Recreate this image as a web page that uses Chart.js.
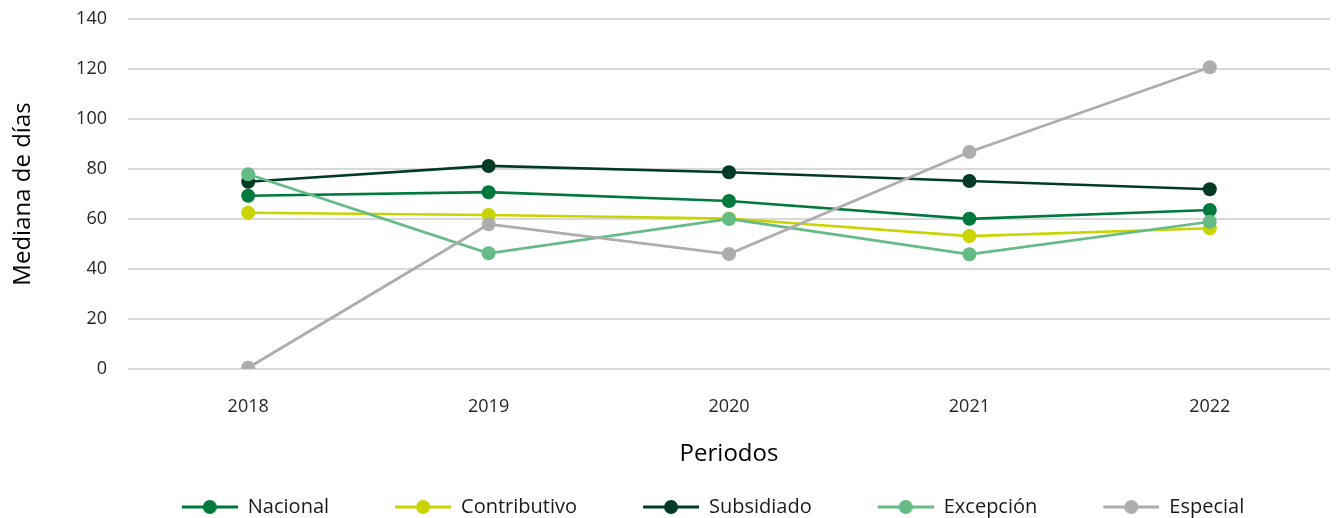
<!DOCTYPE html>
<html lang="es">
<head>
<meta charset="utf-8">
<title>Mediana de días por periodo</title>
<script src="https://cdn.jsdelivr.net/npm/chart.js@4/dist/chart.umd.min.js"></script>
<style>
  html, body { margin: 0; padding: 0; background: #fff; }
  #wrap { position: relative; width: 1340px; height: 518px; }
</style>
</head>
<body>
<div id="wrap"><canvas id="lineChart"></canvas></div>
<script>
// periods on the x axis
const periodos = ['2018', '2019', '2020', '2021', '2022'];

// median days per regime
const nacional = [69.3, 70.7, 67.2, 60.1, 63.6];
const contributivo = [62.5, 61.6, 60.2, 53.2, 56.3];
const subsidiado = [74.9, 81.2, 78.7, 75.2, 71.9];
const excepcion = [77.9, 46.3, 60.0, 45.9, 58.9];
const especial = [0.5, 57.9, 46.0, 86.8, 120.7];

const seriesNames = ['Nacional', 'Contributivo', 'Subsidiado', 'Excepción', 'Especial'];
const seriesData = [nacional, contributivo, subsidiado, excepcion, especial];
const seriesColors = ['#007a3c', '#c9d400', '#013b25', '#65bb86', '#adadad'];

const FONT = '"Open Sans", "Noto Sans", sans-serif';

// legend marker: blank lead-in, then a short line with a dot in the middle
function legendMarker(color) {
  const c = document.createElement('canvas');
  c.width = 112;
  c.height = 16;
  const g = c.getContext('2d');
  g.strokeStyle = color;
  g.lineWidth = 3;
  g.beginPath();
  g.moveTo(56, 8);
  g.lineTo(112, 8);
  g.stroke();
  g.fillStyle = color;
  g.beginPath();
  g.arc(84, 8, 7, 0, Math.PI * 2);
  g.fill();
  return c;
}

const markers = seriesColors.map(legendMarker);

const datasets = seriesNames.map((name, i) => ({
  label: name,
  data: seriesData[i],
  borderColor: seriesColors[i],
  backgroundColor: seriesColors[i],
  pointBackgroundColor: seriesColors[i],
  pointBorderWidth: 0,
  pointRadius: 7,
  pointHoverRadius: 7,
  borderWidth: 2.75,
  tension: 0,
  order: seriesNames.length - i
}));

// nudge the legend into place after layout
const legendShift = {
  id: 'legendShift',
  afterLayout(chart) {
    const lg = chart.legend;
    if (!lg) return;
    lg.left += 20; lg.right += 20;
    lg.top += 9; lg.bottom += 9;
  }
};

new Chart(document.getElementById('lineChart'), {
  type: 'line',
  data: { labels: periodos, datasets: datasets },
  plugins: [legendShift],
  options: {
    responsive: true,
    maintainAspectRatio: false,
    animation: false,
    layout: { padding: { top: 19, right: 10, left: 0, bottom: 0 } },
    plugins: {
      tooltip: { enabled: false },
      legend: {
        position: 'bottom',
        labels: {
          usePointStyle: true,
          pointStyleWidth: 112,
          padding: 10,
          color: '#1a1a1a',
          font: { family: FONT, size: 20 },
          generateLabels(chart) {
            return chart.data.datasets.map((ds, i) => ({
              text: ds.label,
              pointStyle: markers[i],
              fillStyle: ds.borderColor,
              strokeStyle: ds.borderColor,
              lineWidth: 0,
              fontColor: '#1a1a1a',
              hidden: !chart.isDatasetVisible(i),
              datasetIndex: i
            }));
          }
        }
      }
    },
    scales: {
      x: {
        offset: true,
        grid: { display: false, drawTicks: false },
        border: { display: false },
        ticks: { color: '#262626', padding: 27, font: { family: FONT, size: 18 } },
        title: {
          display: true,
          text: 'Periodos',
          color: '#000',
          font: { family: FONT, size: 24 },
          padding: { top: 20, bottom: 9 }
        },
        afterFit(scale) { scale.height = 109; }
      },
      y: {
        min: 0,
        max: 140,
        ticks: { stepSize: 20, color: '#262626', padding: 21, font: { family: FONT, size: 18 } },
        grid: { color: '#d9d9d9', lineWidth: 2, drawTicks: false },
        border: { display: false },
        title: {
          display: true,
          text: 'Mediana de días',
          color: '#000',
          font: { family: FONT, size: 24 },
          padding: { top: 9, bottom: 0 }
        },
        afterFit(scale) {
          scale.width = 128;
          scale.paddingTop = 0;
          scale.paddingBottom = 0;
        }
      }
    }
  }
});
</script>
</body>
</html>
